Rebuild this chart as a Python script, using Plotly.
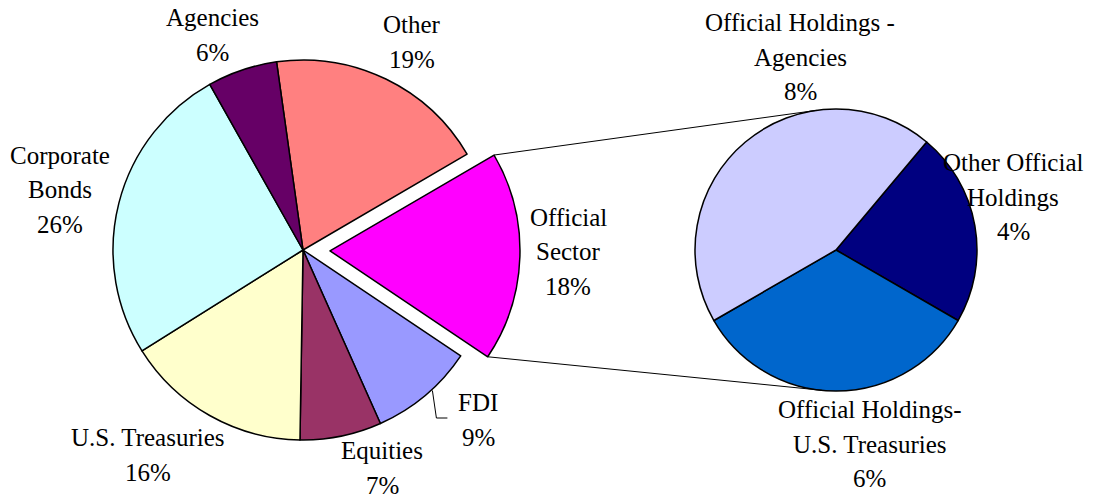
import math
import plotly.graph_objects as go

W, H = 1104, 499

# ---------------- data ----------------
main_labels = ["Other", "Official Sector", "FDI", "Equities",
               "U.S. Treasuries", "Corporate Bonds", "Agencies"]
main_values = [19, 18, 9, 7, 16, 26, 6]
main_colors = ["#FF8080", "#FF00FF", "#9999FF", "#993366",
               "#FFFFCC", "#CCFFFF", "#660066"]
main_label_lines = [["Other"], ["Official", "Sector"], ["FDI"], ["Equities"],
                    ["U.S. Treasuries"], ["Corporate", "Bonds"], ["Agencies"]]

sub_labels = ["Other Official Holdings", "Official Holdings-U.S. Treasuries",
              "Official Holdings - Agencies"]
sub_values = [4, 6, 8]
sub_colors = ["#000080", "#0066CC", "#CCCCFF"]
sub_label_lines = [["Other Official", "Holdings"],
                   ["Official Holdings-", "U.S. Treasuries"],
                   ["Official Holdings -", "Agencies"]]

# ---------------- layout geometry (pixels) ----------------
main_cx, main_cy, main_r = 303, 250, 190
main_rotation = -8
main_pull_px = 27
exploded_index = 1
sub_cx, sub_cy, sub_r = 836, 250, 141
sub_rotation = 40

main_label_pos = [(412, 42), (568, 252), (478, 420), (382, 468),
                  (148, 455), (60, 190), (212, 35)]
sub_label_pos = [(1013, 197), (870, 444), (800, 57)]
line_gap = 34.5
FONT = dict(family="Liberation Serif, Times New Roman, serif", size=25, color="#000000")


def px2paper(x, y):
    return x / W, 1 - y / H


def domain_for(cx, cy, r, pull):
    half = r * (1 + pull)
    return dict(x=[(cx - half) / W, (cx + half) / W],
                y=[1 - (cy + half) / H, 1 - (cy - half) / H])


main_pull = main_pull_px / main_r
pulls = [main_pull if i == exploded_index else 0 for i in range(len(main_values))]

fig = go.Figure()
fig.add_trace(go.Pie(
    labels=main_labels, values=main_values, sort=False, direction="clockwise",
    rotation=main_rotation, pull=pulls,
    marker=dict(colors=main_colors, line=dict(color="#000000", width=1.5)),
    textinfo="none", hoverinfo="label+percent", showlegend=False,
    domain=domain_for(main_cx, main_cy, main_r, main_pull),
))
fig.add_trace(go.Pie(
    labels=sub_labels, values=sub_values, sort=False, direction="clockwise",
    rotation=sub_rotation,
    marker=dict(colors=sub_colors, line=dict(color="#000000", width=1.5)),
    textinfo="none", hoverinfo="label+value", showlegend=False,
    domain=domain_for(sub_cx, sub_cy, sub_r, 0),
))

# ---------------- labels ----------------
annotations = []


def add_label(lines, pos):
    n = len(lines)
    for i, t in enumerate(lines):
        x, y = pos[0], pos[1] + (i - (n - 1) / 2) * line_gap
        px, py = px2paper(x, y)
        annotations.append(dict(x=px, y=py, xref="paper", yref="paper",
                                text=t, showarrow=False, font=FONT,
                                xanchor="center", yanchor="middle"))


for lines, v, pos in zip(main_label_lines, main_values, main_label_pos):
    add_label(lines + [f"{v}%"], pos)
for lines, v, pos in zip(sub_label_lines, sub_values, sub_label_pos):
    add_label(lines + [f"{v}%"], pos)

# ---------------- connector lines (derived from pie geometry) ----------------
total = sum(main_values)
start = main_rotation + 360 * sum(main_values[:exploded_index]) / total
end = start + 360 * main_values[exploded_index] / total
mid = math.radians((start + end) / 2)
ox = main_cx + main_pull_px * math.sin(mid)
oy = main_cy - main_pull_px * math.cos(mid)


def on_circle(cx, cy, r, deg):
    a = math.radians(deg)
    return cx + r * math.sin(a), cy - r * math.cos(a)


p_top = on_circle(ox, oy, main_r, start)
p_bot = on_circle(ox, oy, main_r, end)


def tangent(p, upper):
    dx, dy = sub_cx - p[0], sub_cy - p[1]
    d = math.hypot(dx, dy)
    base = math.atan2(-dy, -dx)
    delta = math.acos(sub_r / d)
    ang = base + delta if upper else base - delta
    return sub_cx + sub_r * math.cos(ang), sub_cy + sub_r * math.sin(ang)


shapes = []
for p, upper in ((p_top, True), (p_bot, False)):
    t = tangent(p, upper)
    x0, y0 = px2paper(*p)
    x1, y1 = px2paper(*t)
    shapes.append(dict(type="line", xref="paper", yref="paper",
                       x0=x0, y0=y0, x1=x1, y1=y1,
                       line=dict(color="#000000", width=1)))

# FDI leader line
fdi_idx = 2
fs = main_rotation + 360 * sum(main_values[:fdi_idx]) / total
fe = fs + 360 * main_values[fdi_idx] / total
lx0, ly0 = on_circle(main_cx, main_cy, main_r + 1, fs + (fe - fs) * 0.42)
lx1, ly1 = lx0 + 4, main_label_pos[fdi_idx][1] - 2
lx2 = lx1 + 11
pts = [px2paper(lx0, ly0), px2paper(lx1, ly1), px2paper(lx2, ly1)]
path = "M {} {} L {} {} L {} {}".format(pts[0][0], pts[0][1], pts[1][0], pts[1][1],
                                       pts[2][0], pts[2][1])
shapes.append(dict(type="path", xref="paper", yref="paper", path=path,
                   line=dict(color="#000000", width=1)))

fig.update_layout(
    width=W, height=H, autosize=False,
    margin=dict(l=0, r=0, t=0, b=0, pad=0),
    paper_bgcolor="#FFFFFF", plot_bgcolor="#FFFFFF",
    annotations=annotations, shapes=shapes,
    showlegend=False,
)

fig.write_html("out.html",
               config={"displayModeBar": False},
               post_script="document.body.style.margin='0';"
                           "document.body.style.overflow='hidden';")
